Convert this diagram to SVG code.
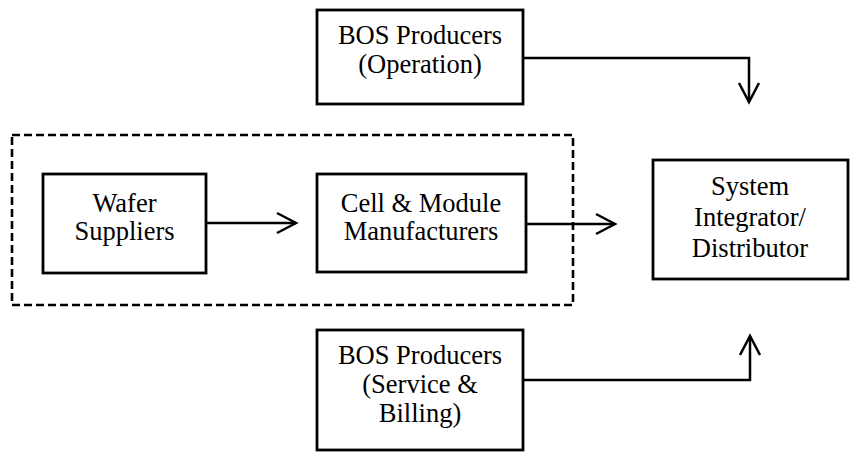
<svg xmlns="http://www.w3.org/2000/svg" width="851" height="452" viewBox="0 0 851 452">
<defs>
<marker id="arr" markerWidth="24" markerHeight="24" viewBox="-20 -12 24 24" refX="0" refY="0" orient="auto" markerUnits="userSpaceOnUse">
<path d="M-19,-10 L0,0 L-19,10" fill="none" stroke="#000" stroke-width="2.5"/>
</marker>
</defs>
<style>
.box{fill:#fff;stroke:#000;stroke-width:2.8}
.t{font-family:"Liberation Serif","Times New Roman",serif;font-size:26.5px;fill:#000;text-anchor:middle}
.c{fill:none;stroke:#000;stroke-width:2.5}
.dash{fill:none;stroke:#000;stroke-width:2.6;stroke-dasharray:8 4}
</style>
<rect width="851" height="452" fill="#fff"/>
<g id="group-dashed">
<rect class="dash" x="12" y="135" width="561" height="170"/>
</g>
<g id="connectors">
<path class="c" d="M206,223 H296" marker-end="url(#arr)"/>
<path class="c" d="M526,224 H615" marker-end="url(#arr)"/>
<path class="c" d="M523,58 H749 V102" marker-end="url(#arr)"/>
<path class="c" d="M523,380 H750 V336" marker-end="url(#arr)"/>
</g>
<g id="bos-operation">
<rect class="box" x="317" y="10" width="206" height="94"/>
<text class="t" x="420" y="44">BOS Producers</text>
<text class="t" x="420" y="73">(Operation)</text>
</g>
<g id="wafer">
<rect class="box" x="43" y="174" width="163" height="99"/>
<text class="t" x="124.5" y="212">Wafer</text>
<text class="t" x="124.5" y="240">Suppliers</text>
</g>
<g id="cell">
<rect class="box" x="317" y="174" width="209" height="98"/>
<text class="t" x="421" y="212">Cell &amp; Module</text>
<text class="t" x="421" y="240">Manufacturers</text>
</g>
<g id="system">
<rect class="box" x="653" y="160" width="195" height="119"/>
<text class="t" x="750" y="195">System</text>
<text class="t" x="750" y="226">Integrator/</text>
<text class="t" x="750" y="257">Distributor</text>
</g>
<g id="bos-service">
<rect class="box" x="317" y="330" width="206" height="120"/>
<text class="t" x="420" y="364">BOS Producers</text>
<text class="t" x="420" y="393">(Service &amp;</text>
<text class="t" x="420" y="422">Billing)</text>
</g>
</svg>
